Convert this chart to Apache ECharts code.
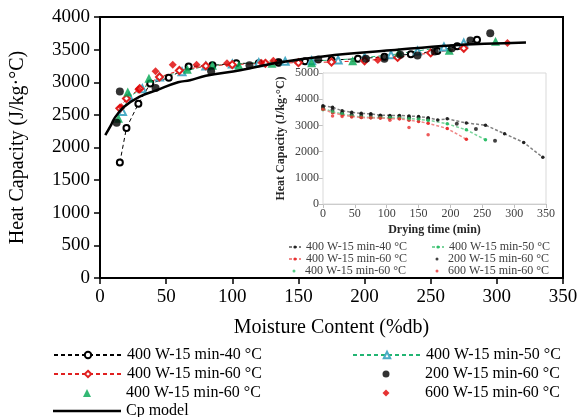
<!DOCTYPE html>
<html><head><meta charset="utf-8">
<script src="https://cdn.jsdelivr.net/npm/echarts@6/dist/echarts.min.js"></script>
<style>html,body{margin:0;padding:0;background:#fff}#c{width:588px;height:417px}</style>
</head><body><div id="c"></div>
<script>
// ---- Main chart data (Moisture content %db vs Heat capacity J/kg·°C)
const xTicksMain = [0, 50, 100, 150, 200, 250, 300, 350];
const yTicksMain = [0, 500, 1000, 1500, 2000, 2500, 3000, 3500, 4000];

const a40_x = [15, 20, 29, 38, 52, 67, 85, 103, 120, 135, 155, 175, 195, 215, 235, 255, 270, 285];
const a40_y = [1770, 2300, 2670, 2980, 3070, 3240, 3260, 3290, 3290, 3300, 3320, 3340, 3360, 3390, 3430, 3480, 3550, 3650];

const b50_x = [17, 22, 32, 45, 62, 80, 100, 120, 140, 160, 180, 200, 220, 240, 260, 275];
const b50_y = [2550, 2780, 2900, 3080, 3160, 3250, 3280, 3300, 3320, 3330, 3340, 3380, 3420, 3480, 3540, 3600];

const c60_x = [15, 20, 30, 45, 60, 80, 100, 125, 150, 175, 200, 225, 250, 275];
const c60_y = [2600, 2750, 2900, 3080, 3180, 3250, 3270, 3290, 3300, 3310, 3330, 3380, 3450, 3520];

const d60_x = [14, 21, 37, 66, 85, 105, 130, 160, 191, 226, 264, 299];
const d60_y = [2450, 2850, 3060, 3200, 3260, 3260, 3290, 3300, 3330, 3460, 3490, 3630];

const e200_x = [12.6, 15, 42, 84, 113, 135, 165, 201, 215, 227, 240, 253, 266, 280, 295];
const e200_y = [2380, 2860, 2910, 3170, 3260, 3310, 3350, 3360, 3360, 3420, 3410, 3470, 3520, 3640, 3750];

const f600_x = [16, 29, 42, 55, 73, 96, 122, 131, 210, 308];
const f600_y = [2620, 2890, 3170, 3270, 3270, 3290, 3300, 3330, 3340, 3600];

const cp_x = [4, 8, 11, 18, 30, 43, 59, 68, 80, 106, 134, 170, 220, 265, 322];
const cp_y = [2190, 2330, 2450, 2620, 2780, 2880, 3000, 3030, 3100, 3185, 3300, 3400, 3490, 3565, 3610];

// ---- Inset data (Drying time min vs Heat capacity)
const xTicksInset = [0, 50, 100, 150, 200, 250, 300, 350];
const yTicksInset = [0, 1000, 2000, 3000, 4000, 5000];

const i40_t = [0, 15, 30, 45, 60, 75, 90, 105, 120, 135, 150, 165, 180, 195, 225, 255, 285, 315, 345];
const i40_y = [3750, 3690, 3560, 3500, 3460, 3440, 3390, 3380, 3380, 3360, 3340, 3290, 3210, 3250, 3090, 3010, 2680, 2350, 1780];

const i50_t = [0, 15, 30, 45, 60, 75, 90, 105, 120, 135, 150, 165, 195, 225, 255];
const i50_y = [3650, 3520, 3440, 3360, 3320, 3300, 3300, 3290, 3280, 3260, 3230, 3200, 3060, 2830, 2450];

const i60_t = [0, 15, 30, 45, 60, 75, 90, 105, 120, 135, 150, 165, 195, 225];
const i60_y = [3620, 3480, 3400, 3340, 3300, 3290, 3280, 3260, 3250, 3200, 3150, 3080, 2880, 2470];

const i200_t = [0, 15, 30, 45, 60, 75, 90, 105, 120, 135, 150, 165, 210, 240, 270];
const i200_y = [3700, 3600, 3480, 3420, 3400, 3400, 3350, 3340, 3330, 3310, 3300, 3250, 3060, 2860, 2410];

const i60g_t = [0, 15, 30, 45, 60, 75, 90, 105, 120, 135, 150, 165];
const i60g_y = [3600, 3520, 3440, 3360, 3320, 3300, 3300, 3300, 3290, 3250, 3240, 3200];

const i600_t = [0, 15, 30, 45, 60, 75, 90, 105, 120, 135, 165];
const i600_y = [3620, 3360, 3340, 3320, 3300, 3290, 3280, 3200, 3250, 2920, 2640];

const labels = {
  mA: '400 W-15 min-40 °C', mB: '400 W-15 min-50 °C', mC: '400 W-15 min-60 °C',
  mD: '400 W-15 min-60 °C', mE: '200 W-15 min-60 °C', mF: '600 W-15 min-60 °C', mCp: 'Cp model',
  iA: '400 W-15 min-40 °C', iB: '400 W-15 min-50 °C', iC: '400 W-15 min-60 °C',
  iE: '200 W-15 min-60 °C', iD: '400 W-15 min-60 °C', iF: '600 W-15 min-60 °C'
};

const zip = (xs, ys) => xs.map((x, i) => [x, ys[i]]);
const FONT = 'Liberation Serif';
const plain = v => String(v);

const chart = echarts.init(document.getElementById('c'), null, {renderer: 'canvas'});

const mainAxisCommon = {
  axisLine: {show: true, lineStyle: {color: '#000', width: 2}},
  axisTick: {show: true, inside: false, length: 6, lineStyle: {color: '#000', width: 1.5}},
  splitLine: {show: false}
};
const insetAxisCommon = {
  axisLine: {show: true, lineStyle: {color: '#bfbfbf', width: 1}},
  axisTick: {show: true, inside: false, length: 4, lineStyle: {color: '#bfbfbf'}},
  splitLine: {show: false},
  axisLabel: {color: '#404040', fontFamily: FONT, fontSize: 12, margin: 4, formatter: plain}
};

const dash = [4, 3];

// legend helpers: one legend component per item, placed like the reference
function lineLegend(name, left, top, w, h, fs, color, extra) {
  return Object.assign({left: left, top: top, itemWidth: w, itemHeight: h, data: [name],
    formatter: n => labels[n], textStyle: {fontFamily: FONT, fontSize: fs, color: color}}, extra || {});
}
function dotLegend(name, boxLeft, boxW, size, top, fs, color) {
  const l = boxLeft + (boxW - size) / 2;
  const pad = boxLeft + boxW - (l + size);
  return {left: l, top: top, itemWidth: size, itemHeight: size, data: [name],
    formatter: n => labels[n],
    textStyle: {fontFamily: FONT, fontSize: fs, color: color, padding: [0, 0, 0, pad]}};
}

const legends = [
  lineLegend('mA', 48, 342, 68, 8, 16, '#000'),
  lineLegend('mC', 48, 361, 68, 8, 16, '#000'),
  dotLegend('mD', 48, 68, 8, 380, 16, '#000'),
  {left: 48, top: 398, itemWidth: 68, itemHeight: 2.5, data: [{name: 'mCp', icon: 'rect'}],
    formatter: n => labels[n], textStyle: {fontFamily: FONT, fontSize: 16, color: '#000'}},
  lineLegend('mB', 347, 342, 68, 8, 16, '#000'),
  dotLegend('mE', 347, 68, 7, 361, 16, '#000'),
  dotLegend('mF', 347, 68, 7, 380, 16, '#000'),
  lineLegend('iA', 283, 236, 12, 4, 12, '#404040'),
  lineLegend('iC', 283, 248, 12, 4, 12, '#404040'),
  dotLegend('iD', 283, 12, 3, 260, 12, '#404040'),
  lineLegend('iB', 426, 236, 12, 4, 12, '#404040'),
  dotLegend('iE', 426, 12, 3, 248, 12, '#404040'),
  dotLegend('iF', 426, 12, 3, 260, 12, '#404040')
];

option = {
  animation: false,
  backgroundColor: '#fff',
  textStyle: {fontFamily: FONT},
  grid: [
    {left: 100, top: 17, right: 25, bottom: 139, show: true, borderColor: '#000', borderWidth: 2, backgroundColor: 'transparent', containLabel: false},
    {left: 323, top: 73, width: 223, height: 131, show: true, borderColor: '#d9d9d9', borderWidth: 1, backgroundColor: '#fff', containLabel: false, z: 3}
  ],
  xAxis: [
    Object.assign({}, mainAxisCommon, {gridIndex: 0, type: 'value', min: xTicksMain[0], max: xTicksMain[xTicksMain.length - 1], interval: 50,
      name: 'Moisture Content (%db)', nameLocation: 'middle', nameGap: 40,
      nameTextStyle: {color: '#000', fontFamily: FONT, fontSize: 20},
      axisLabel: {color: '#000', fontFamily: FONT, fontSize: 19, margin: 10, formatter: plain}}),
    Object.assign({}, insetAxisCommon, {gridIndex: 1, type: 'value', min: xTicksInset[0], max: xTicksInset[xTicksInset.length - 1], interval: 50,
      name: 'Drying time (min)', nameLocation: 'middle', nameGap: 20,
      nameTextStyle: {color: '#262626', fontFamily: FONT, fontSize: 12, fontWeight: 'bold'}})
  ],
  yAxis: [
    Object.assign({}, mainAxisCommon, {gridIndex: 0, type: 'value', min: yTicksMain[0], max: yTicksMain[yTicksMain.length - 1], interval: 500,
      name: 'Heat Capacity (J/kg·°C)', nameLocation: 'middle', nameGap: 72, nameRotate: 90,
      nameTextStyle: {color: '#000', fontFamily: FONT, fontSize: 20},
      axisLabel: {color: '#000', fontFamily: FONT, fontSize: 19, margin: 10, formatter: plain}}),
    Object.assign({}, insetAxisCommon, {gridIndex: 1, type: 'value', min: yTicksInset[0], max: yTicksInset[yTicksInset.length - 1], interval: 1000,
      name: 'Heat Capacity (J/kg·°C)', nameLocation: 'middle', nameGap: 36, nameRotate: 90,
      nameTextStyle: {color: '#262626', fontFamily: FONT, fontSize: 12, fontWeight: 'bold'}})
  ],
  legend: legends,
  series: [
    {name: 'mA', type: 'line', xAxisIndex: 0, yAxisIndex: 0, data: zip(a40_x, a40_y),
      symbol: 'emptyCircle', symbolSize: 6, itemStyle: {color: '#000', borderWidth: 1},
      lineStyle: {color: '#000', width: 1, type: dash}, z: 3},
    {name: 'mB', type: 'line', xAxisIndex: 0, yAxisIndex: 0, data: zip(b50_x, b50_y),
      symbol: 'emptyTriangle', symbolSize: 7, itemStyle: {color: '#4bacc6', borderWidth: 1},
      lineStyle: {color: '#22b573', width: 1, type: dash}, z: 3},
    {name: 'mC', type: 'line', xAxisIndex: 0, yAxisIndex: 0, data: zip(c60_x, c60_y),
      symbol: 'emptyDiamond', symbolSize: 7, itemStyle: {color: '#e02020', borderWidth: 1},
      lineStyle: {color: '#e02020', width: 1, type: dash}, z: 3},
    {name: 'mD', type: 'scatter', xAxisIndex: 0, yAxisIndex: 0, data: zip(d60_x, d60_y),
      symbol: 'triangle', symbolSize: 9, itemStyle: {color: '#00a651'}, z: 4},
    {name: 'mE', type: 'scatter', xAxisIndex: 0, yAxisIndex: 0, data: zip(e200_x, e200_y),
      symbol: 'circle', symbolSize: 8, itemStyle: {color: '#000'}, z: 4},
    {name: 'mF', type: 'scatter', xAxisIndex: 0, yAxisIndex: 0, data: zip(f600_x, f600_y),
      symbol: 'diamond', symbolSize: 8, itemStyle: {color: '#e00000'}, z: 4},
    {name: 'mCp', type: 'line', xAxisIndex: 0, yAxisIndex: 0, data: zip(cp_x, cp_y),
      symbol: 'none', smooth: 0.4, itemStyle: {color: '#000'}, lineStyle: {color: '#000', width: 2.5}, z: 5},

    {name: 'iA', type: 'line', xAxisIndex: 1, yAxisIndex: 1, data: zip(i40_t, i40_y),
      symbol: 'circle', symbolSize: 3.5, itemStyle: {color: '#222'},
      lineStyle: {color: '#808080', width: 1.5, type: [3, 2]}, z: 6},
    {name: 'iB', type: 'line', xAxisIndex: 1, yAxisIndex: 1, data: zip(i50_t, i50_y),
      symbol: 'circle', symbolSize: 3.5, itemStyle: {color: '#2fbf6a'},
      lineStyle: {color: '#7ad49c', width: 1.5, type: [3, 2]}, z: 6},
    {name: 'iC', type: 'line', xAxisIndex: 1, yAxisIndex: 1, data: zip(i60_t, i60_y),
      symbol: 'circle', symbolSize: 3.5, itemStyle: {color: '#e83030'},
      lineStyle: {color: '#f08a8a', width: 1.5, type: [3, 2]}, z: 6},
    {name: 'iE', type: 'scatter', xAxisIndex: 1, yAxisIndex: 1, data: zip(i200_t, i200_y),
      symbol: 'circle', symbolSize: 4, itemStyle: {color: '#111'}, z: 7},
    {name: 'iD', type: 'scatter', xAxisIndex: 1, yAxisIndex: 1, data: zip(i60g_t, i60g_y),
      symbol: 'circle', symbolSize: 3.5, itemStyle: {color: '#2fbf6a'}, z: 7},
    {name: 'iF', type: 'scatter', xAxisIndex: 1, yAxisIndex: 1, data: zip(i600_t, i600_y),
      symbol: 'circle', symbolSize: 3.5, itemStyle: {color: '#e83030'}, z: 7}
  ]
};
chart.setOption(option);
</script>
</body></html>
